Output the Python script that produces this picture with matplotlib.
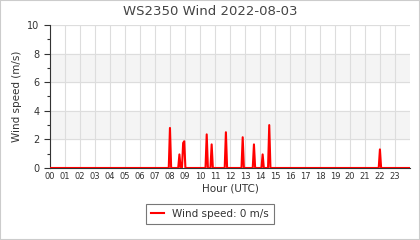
import matplotlib
matplotlib.use("Agg")
import matplotlib.pyplot as plt
from matplotlib.patches import Rectangle

# wind samples (hour of day, m/s); zero everywhere else
hours = [0.0, 7.92, 8.0, 8.08, 8.55, 8.63, 8.71, 8.8, 8.88, 8.95, 9.03,
         10.37, 10.45, 10.53, 10.7, 10.78, 10.86, 11.65, 11.73, 11.81,
         12.77, 12.85, 12.93, 13.52, 13.6, 13.68, 14.1, 14.18, 14.26,
         14.54, 14.62, 14.7, 21.92, 22.0, 22.08, 24.0]
speed = [0, 0, 2.8, 0, 0, 0.95, 0, 0, 1.75, 1.87, 0,
         0, 2.35, 0, 0, 1.65, 0, 0, 2.5, 0,
         0, 2.15, 0, 0, 1.65, 0, 0, 0.95, 0,
         0, 3.0, 0, 0, 1.3, 0, 0]
hour_labels = ["%02d" % h for h in range(24)]
current = 0

txt = "#333333"
fig = plt.figure(figsize=(4.2, 2.4), dpi=100)
fig.patches.append(Rectangle((0, 0), 1, 1, transform=fig.transFigure,
                             fill=False, edgecolor="#cccccc", lw=1.5))
ax = fig.add_axes([0.119, 0.30, 0.857, 0.596])

ax.axhspan(2, 4, color="#f4f4f4", zorder=0)
ax.axhspan(6, 8, color="#f4f4f4", zorder=0)
ax.plot(hours, speed, color="red", lw=1.5, zorder=3,
        label="Wind speed: %d m/s" % current)

ax.set_xlim(0, 24)
ax.set_ylim(0, 10)
ax.set_xticks(range(24))
ax.set_xticklabels(hour_labels, fontsize=6, color=txt)
ax.set_yticks(range(0, 11, 2))
ax.set_yticks(range(1, 10, 2), minor=True)
ax.tick_params(axis="y", labelsize=7, colors=txt, length=4, width=0.8)
ax.tick_params(axis="y", which="minor", length=2, width=0.8, colors=txt)
ax.tick_params(axis="x", length=0, pad=3)
ax.grid(True, color="#dddddd", lw=0.8, zorder=1)
ax.set_axisbelow(True)
for s in ["top", "right"]:
    ax.spines[s].set_visible(False)
ax.spines["left"].set_color(txt)
ax.spines["bottom"].set_color(txt)
ax.axhline(10, color="#dddddd", lw=0.8, zorder=1)

ax.set_xlabel("Hour (UTC)", fontsize=7.5, color=txt, labelpad=2)
ax.set_ylabel("Wind speed (m/s)", fontsize=7.5, color=txt)
fig.text(0.5, 0.953, "WS2350 Wind 2022-08-03", fontsize=9.5, color="#444444",
         ha="center", va="center")

leg = fig.legend(loc="upper center", bbox_to_anchor=(0.5, 0.172), fontsize=7.5,
                 frameon=True, fancybox=False, handlelength=1.2, borderpad=0.5)
leg.get_frame().set_edgecolor("#555555")
leg.get_frame().set_linewidth(0.8)
for t in leg.get_texts():
    t.set_color(txt)

fig.savefig("out.png", dpi=100)
